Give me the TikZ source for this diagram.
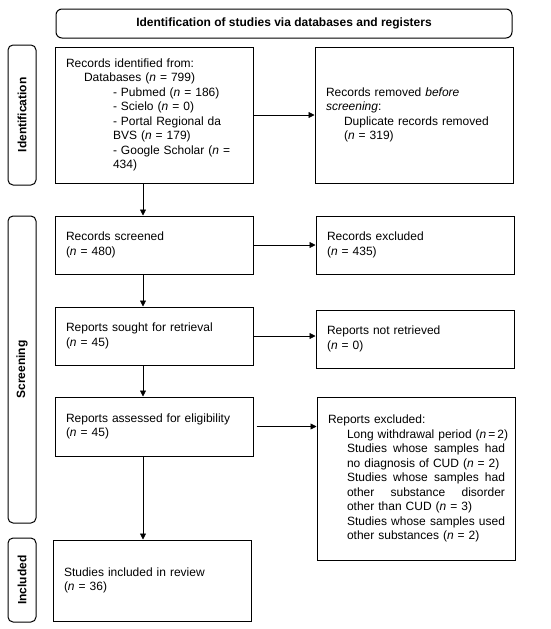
\documentclass[tikz,border=0pt]{standalone}
\usepackage{fontspec}
\setmainfont{Liberation Sans}
\usetikzlibrary{arrows.meta}
\begin{document}
\begin{tikzpicture}[x=1pt,y=-1pt,
  txt/.style={font=\fontsize{12}{14.5}\selectfont},
  box/.style={txt, draw, line width=1pt, align=left, inner xsep=11pt, inner ysep=0pt, text width=176pt},
  side/.style={draw, line width=1pt, rounded corners=5pt, rotate=90, minimum height=28pt, inner sep=0pt, font=\fontsize{12}{14.5}\selectfont\bfseries},
  arr/.style={-{Triangle[length=6pt,width=6pt]}, line width=0.7pt}
]
\useasboundingbox (0,0) rectangle (550,629);

% title
\node[draw, line width=1pt, rounded corners=6pt, minimum width=456pt, minimum height=29pt, inner sep=0pt, font=\fontsize{12}{14.5}\selectfont\bfseries] (title) at (284,23.5) {Identification of studies via databases and registers};

% side labels
\node[side, minimum width=140pt] (sideid) at (22,115) {Identification};
\node[side, minimum width=307pt] (sidescr) at (22,369.5) {Screening};
\node[side, minimum width=84pt] (sideinc) at (22,580) {Included};

% boxes
\node[box, minimum height=136pt] (id) at (154,115) {Records identified from:\\
\hspace*{18pt}Databases (\textit{n} = 799)\\
\hspace*{47pt}- Pubmed (\textit{n} = 186)\\
\hspace*{47pt}- Scielo (\textit{n} = 0)\\
\hspace*{47pt}- Portal Regional da\\
\hspace*{47pt}BVS (\textit{n} = 179)\\
\hspace*{47pt}- Google Scholar (\textit{n} =\\
\hspace*{47pt}434)};

\node[box, minimum height=136pt] (rem) at (414,115) {Records removed \textit{before}\\
\textit{screening}:\\
\hspace*{18pt}Duplicate records removed\\
\hspace*{18pt}(\textit{n} = 319)};

\node[box, minimum height=58pt] (scr) at (154,245) {Records screened\\(\textit{n} = 480)};
\node[box, minimum height=58pt] (exc) at (415,245) {Records excluded\\(\textit{n} = 435)};

\node[box, minimum height=58pt] (sought) at (154,336) {Reports sought for retrieval\\(\textit{n} = 45)};
\node[box, minimum height=58pt] (notret) at (415,339) {Reports not retrieved\\(\textit{n} = 0)};

\node[box, minimum height=59pt] (assess) at (154,426.5) {Reports assessed for eligibility\\(\textit{n} = 45)};

\node[box, minimum height=163pt] (repexc) at (416,478.5) {Reports excluded:\\
\hspace*{19pt}\hbox to 158pt{Long withdrawal period (\textit{n}\,=\,2)\hss}\\
\hspace*{19pt}\hbox to 158pt{Studies\hfill whose\hfill samples\hfill had}\\
\hspace*{19pt}no diagnosis of CUD (\textit{n} = 2)\\
\hspace*{19pt}\hbox to 158pt{Studies\hfill whose\hfill samples\hfill had}\\
\hspace*{19pt}\hbox to 158pt{other\hfill substance\hfill disorder}\\
\hspace*{19pt}other than CUD (\textit{n} = 3)\\
\hspace*{19pt}\hbox to 158pt{Studies\hfill whose\hfill samples\hfill used}\\
\hspace*{19pt}other substances (\textit{n} = 2)};

\node[box, minimum height=81pt] (incl) at (152,580.5) {Studies included in review\\(\textit{n} = 36)};

% connectors
\coordinate (cx) at (143,0);
\draw[arr] (id.south -| cx) -- (scr.north -| cx);
\draw[arr] (scr.south -| cx) -- (sought.north -| cx);
\draw[arr] (sought.south -| cx) -- (assess.north -| cx);
\draw[arr] (assess.south -| cx) -- (incl.north -| cx);

\draw[arr] (id.east) -- (rem.west);
\draw[arr] (scr.east) -- (exc.west);
\draw[arr] (sought.east) -- (sought.east -| notret.west);
\draw[arr, shorten <=3pt] (assess.east) -- (assess.east -| repexc.west);
\end{tikzpicture}
\end{document}
